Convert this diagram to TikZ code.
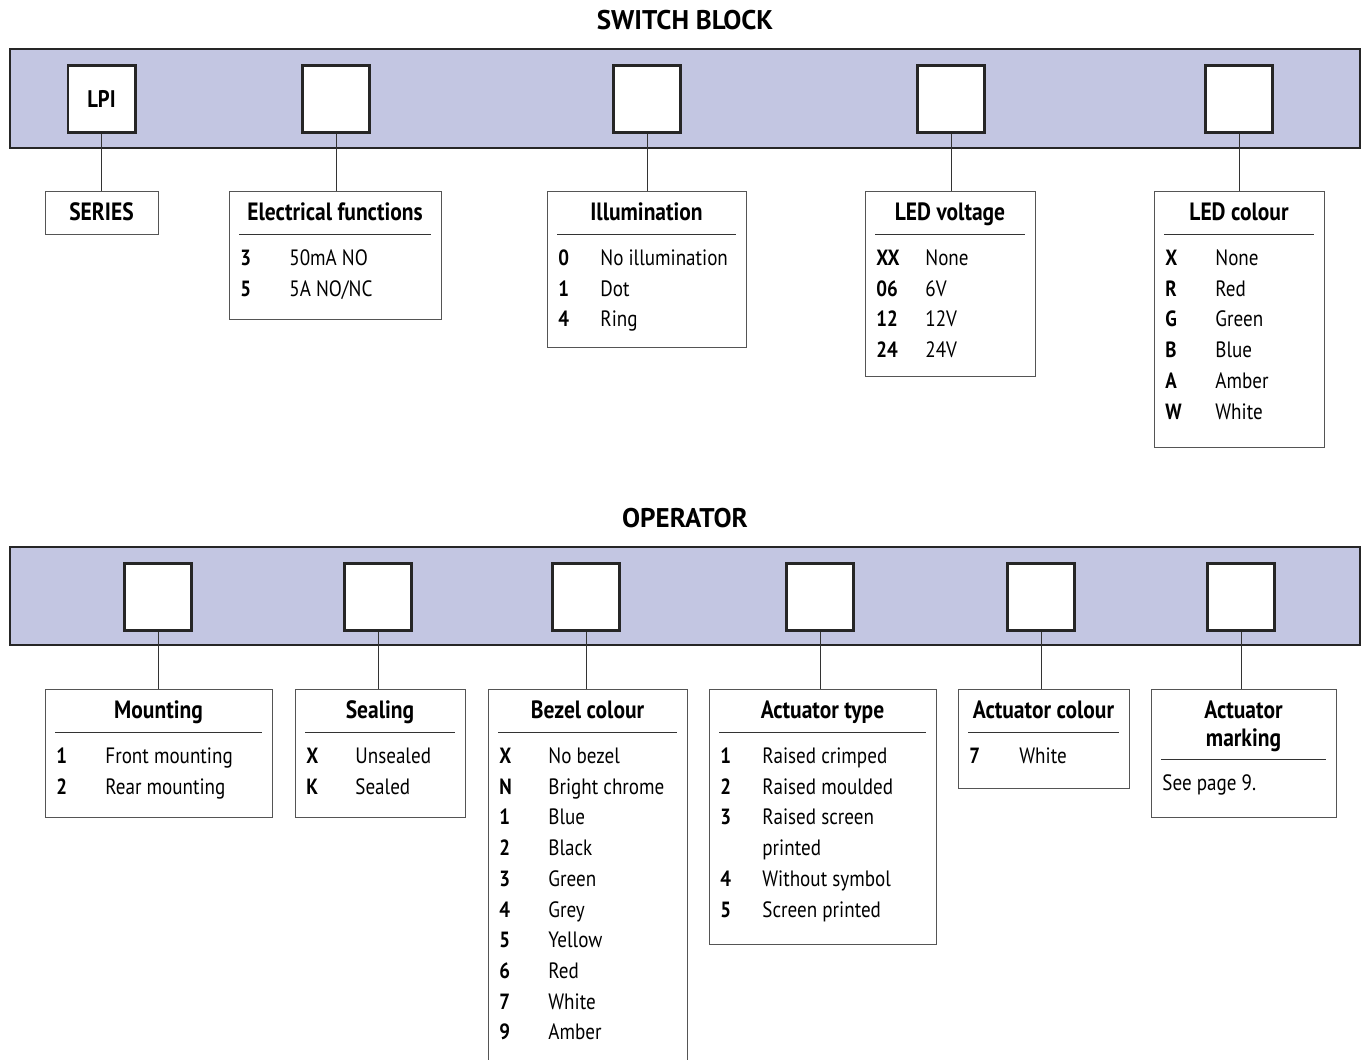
\documentclass[tikz,border=0pt]{standalone}
\usepackage{fontspec}
\setmainfont[FakeStretch=0.86]{PT Sans}
\newfontfamily\bandfont{PT Sans}
\usepackage{tikz}
\usetikzlibrary{fit}
\definecolor{barblue}{RGB}{195,198,226}
\definecolor{boxgrey}{RGB}{85,85,85}

\begin{document}
\begin{tikzpicture}[x=0.5pt,y=-0.5pt,
    bar/.style={fill=barblue,draw=black!85,line width=0.6pt},
    slot/.style={draw=black!85,fill=white,line width=1.3pt,minimum size=33.7pt,inner sep=0pt,font=\bfseries\fontsize{12}{14}\selectfont},
    lbox/.style={draw=boxgrey,line width=0.5pt,inner sep=0pt},
    band/.style={anchor=base,font=\bandfont\bfseries\fontsize{13.5}{16}\selectfont},
    head/.style={anchor=base,inner sep=0pt,font=\bfseries\fontsize{12.5}{15}\selectfont},
    key/.style={anchor=base west,inner sep=0pt,font=\bfseries\fontsize{11}{13}\selectfont},
    val/.style={anchor=base west,inner sep=0pt,font=\fontsize{11.1}{13}\selectfont},
    link/.style={draw=black!80,line width=0.5pt}]
    \useasboundingbox (0,0) rectangle (1361,1060);
    \clip (0,0) rectangle (1361,1060);

    % switch block
    \node[band] (swt) at (685,30) {SWITCH BLOCK};
    \draw[bar] (10,49) rectangle (1360,148);
    \node[slot] (s1) at (101.5,99) {LPI};
    \node[slot] (s2) at (336,99) {};
    \node[slot] (s3) at (647,99) {};
    \node[slot] (s4) at (951,99) {};
    \node[slot] (s5) at (1239,99) {};

    \node[lbox,fit={(45,191) (158,234)}] (series) {};
    \node[head] at (101.5,220) {SERIES};

    \node[lbox,fit={(229,191) (441,319)}] (elec) {};
    \node[head] at (335,220) {Electrical functions};
    \draw[link] (239,234)--(431,234);
    \foreach \k/\v [count=\i] in {3/50mA NO,5/{5A NO/NC}}{
        \node[key] at (240,{265.5+(\i-1)*30.7}) {\k};
        \node[val] at (289,{265.5+(\i-1)*30.7}) {\v};
    }

    \node[lbox,fit={(547,191) (746,347)}] (illu) {};
    \node[head] at (646.5,220) {Illumination};
    \draw[link] (557,234)--(736,234);
    \foreach \k/\v [count=\i] in {0/No illumination,1/Dot,4/Ring}{
        \node[key] at (558,{265.5+(\i-1)*30.7}) {\k};
        \node[val] at (600,{265.5+(\i-1)*30.7}) {\v};
    }

    \node[lbox,fit={(865,191) (1035,376)}] (volt) {};
    \node[head] at (950,220) {LED voltage};
    \draw[link] (875,234)--(1025,234);
    \foreach \k/\v [count=\i] in {XX/None,06/6V,12/12V,24/24V}{
        \node[key] at (876,{265.5+(\i-1)*30.7}) {\k};
        \node[val] at (925,{265.5+(\i-1)*30.7}) {\v};
    }

    \node[lbox,fit={(1154,191) (1324,447)}] (ledcol) {};
    \node[head] at (1239,220) {LED colour};
    \draw[link] (1164,234)--(1314,234);
    \foreach \k/\v [count=\i] in {X/None,R/Red,G/Green,B/Blue,A/Amber,W/White}{
        \node[key] at (1165,{265.5+(\i-1)*30.7}) {\k};
        \node[val] at (1215,{265.5+(\i-1)*30.7}) {\v};
    }

    \draw[link] (s1.south)--(s1.south |- series.north);
    \draw[link] (s2.south)--(s2.south |- elec.north);
    \draw[link] (s3.south)--(s3.south |- illu.north);
    \draw[link] (s4.south)--(s4.south |- volt.north);
    \draw[link] (s5.south)--(s5.south |- ledcol.north);

    % operator
    \node[band] (opr) at (685,527) {OPERATOR};
    \draw[bar] (10,547) rectangle (1360,645);
    \node[slot] (o1) at (158,597) {};
    \node[slot] (o2) at (378,597) {};
    \node[slot] (o3) at (586,597) {};
    \node[slot] (o4) at (820,597) {};
    \node[slot] (o5) at (1041,597) {};
    \node[slot] (o6) at (1241,597) {};

    \node[lbox,fit={(45,689) (272,817)}] (mount) {};
    \node[head] at (158.5,718) {Mounting};
    \draw[link] (55,732)--(262,732);
    \foreach \k/\v [count=\i] in {1/Front mounting,2/Rear mounting}{
        \node[key] at (56,{763.5+(\i-1)*30.7}) {\k};
        \node[val] at (105,{763.5+(\i-1)*30.7}) {\v};
    }

    \node[lbox,fit={(295,689) (465,817)}] (seal) {};
    \node[head] at (380,718) {Sealing};
    \draw[link] (305,732)--(455,732);
    \foreach \k/\v [count=\i] in {X/Unsealed,K/Sealed}{
        \node[key] at (306,{763.5+(\i-1)*30.7}) {\k};
        \node[val] at (355,{763.5+(\i-1)*30.7}) {\v};
    }

    \node[lbox,fit={(488,689) (687,1100)}] (bezel) {};
    \node[head] at (587.5,718) {Bezel colour};
    \draw[link] (498,732)--(677,732);
    \foreach \k/\v [count=\i] in {X/No bezel,N/Bright chrome,1/Blue,2/Black,3/Green,4/Grey,5/Yellow,6/Red,7/White,9/Amber}{
        \node[key] at (499,{763.5+(\i-1)*30.7}) {\k};
        \node[val] at (548,{763.5+(\i-1)*30.7}) {\v};
    }

    \node[lbox,fit={(709,689) (936,944)}] (acttype) {};
    \node[head] at (822.5,718) {Actuator type};
    \draw[link] (719,732)--(926,732);
    \foreach \k/\v [count=\i] in {1/Raised crimped,2/Raised moulded,3/Raised screen,{}/printed,4/Without symbol,5/Screen printed}{
        \node[key] at (720,{763.5+(\i-1)*30.7}) {\k};
        \node[val] at (762,{763.5+(\i-1)*30.7}) {\v};
    }

    \node[lbox,fit={(958,689) (1129,788)}] (actcol) {};
    \node[head] at (1043.5,718) {Actuator colour};
    \draw[link] (968,732)--(1119,732);
    \node[key] at (969,763.5) {7};
    \node[val] at (1019,763.5) {White};

    \node[lbox,fit={(1151,689) (1336,817)}] (actmark) {};
    \node[head] at (1243.5,718) {Actuator};
    \node[head] at (1243.5,746) {marking};
    \draw[link] (1161,759)--(1326,759);
    \node[val] at (1162,790.5) {See page 9.};

    \draw[link] (o1.south)--(o1.south |- mount.north);
    \draw[link] (o2.south)--(o2.south |- seal.north);
    \draw[link] (o3.south)--(o3.south |- bezel.north);
    \draw[link] (o4.south)--(o4.south |- acttype.north);
    \draw[link] (o5.south)--(o5.south |- actcol.north);
    \draw[link] (o6.south)--(o6.south |- actmark.north);
\end{tikzpicture}
\end{document}
